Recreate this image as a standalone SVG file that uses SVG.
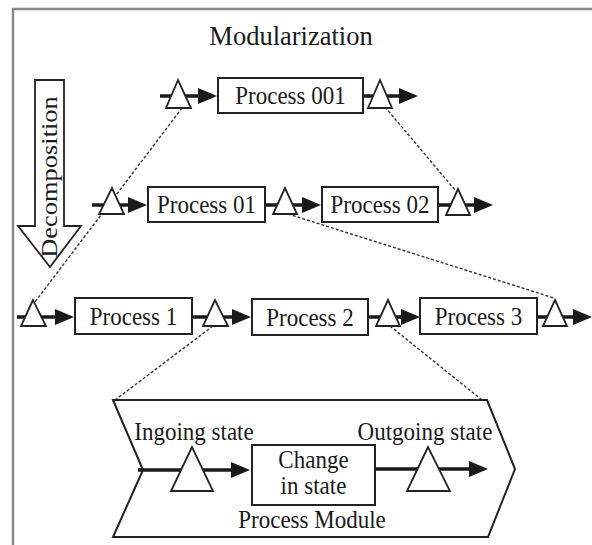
<svg xmlns="http://www.w3.org/2000/svg" width="592" height="545" viewBox="0 0 592 545">
<defs>
<style>
.t{font-family:"Liberation Serif","Times New Roman",serif;font-size:23px;fill:#1a1a1a;text-anchor:middle}
.box{fill:#fff;stroke:#222;stroke-width:2}
.tri{fill:#fff;stroke:#222;stroke-width:1.8;stroke-linejoin:miter}
.flow{fill:none;stroke:#1a1a1a;stroke-width:3.5}
.dot{fill:none;stroke:#333;stroke-width:1.4;stroke-dasharray:3 2}
</style>
<marker id="ah" markerUnits="userSpaceOnUse" markerWidth="22" markerHeight="20" refX="11" refY="8" orient="auto" overflow="visible">
<path d="M0,0 L19,8 L0,16 Z" fill="#1a1a1a"/>
</marker>
</defs>
<rect width="592" height="545" fill="#fff"/>
<path d="M13,545 V9 H592" fill="none" stroke="#888" stroke-width="2.5"/>
<text class="t" style="font-size:26.5px" transform="translate(291,45) scale(1,1.04)">Modularization</text>
<g id="decomposition">
<path d="M35,80 H64 V226 H81 L50,267 L18,226 H35 Z" fill="#fff" stroke="#222" stroke-width="1.8"/>
<text class="t" transform="translate(57,177) scale(1,1.15) rotate(-90)">Decomposition</text>
</g>
<g id="connectors">
<path class="dot" d="M182,108 L35,302"/>
<path class="dot" d="M385,107 L455,190"/>
<path class="dot" d="M288,214 L554,298"/>
<path class="dot" d="M213,326 L115,400"/>
<path class="dot" d="M390,326 L482,400"/>
<path class="flow" d="M160,96 H209" marker-end="url(#ah)"/>
<path class="flow" d="M363,96 H410" marker-end="url(#ah)"/>
<path class="flow" d="M92,205 H139" marker-end="url(#ah)"/>
<path class="flow" d="M265,205 H313" marker-end="url(#ah)"/>
<path class="flow" d="M438,205 H485" marker-end="url(#ah)"/>
<path class="flow" d="M17,317 H66" marker-end="url(#ah)"/>
<path class="flow" d="M192,317 H243" marker-end="url(#ah)"/>
<path class="flow" d="M368,317 H412" marker-end="url(#ah)"/>
<path class="flow" d="M537,317 H584" marker-end="url(#ah)"/>
</g>
<g id="p001-in"><polygon class="tri" points="178,80 166,108 191,108"/></g>
<g id="p001"><rect class="box" x="218" y="78" width="145" height="35"/><text class="t" transform="translate(290.5,104) scale(1,1.05)">Process 001</text></g>
<g id="p001-out"><polygon class="tri" points="380,80 368,108 392,108"/></g>
<g id="p01-in"><polygon class="tri" points="112,188 99,214 124,214"/></g>
<g id="p01"><rect class="box" x="148" y="187" width="117" height="35"/><text class="t" transform="translate(206.5,213) scale(1,1.05)">Process 01</text></g>
<g id="p01-out"><polygon class="tri" points="285,188 273,214 297,214"/></g>
<g id="p02"><rect class="box" x="322" y="187" width="116" height="35"/><text class="t" transform="translate(380,213) scale(1,1.05)">Process 02</text></g>
<g id="p02-out"><polygon class="tri" points="458,189 446,215 470,215"/></g>
<g id="p1-in"><polygon class="tri" points="33,300 21,326 46,326"/></g>
<g id="p1"><rect class="box" x="75" y="298" width="117" height="36"/><text class="t" transform="translate(133.5,325) scale(1,1.05)">Process 1</text></g>
<g id="p1-out"><polygon class="tri" points="215,300 203,326 228,326"/></g>
<g id="p2"><rect class="box" x="252" y="299" width="116" height="36"/><text class="t" transform="translate(310,326) scale(1,1.05)">Process 2</text></g>
<g id="p2-out"><polygon class="tri" points="388,300 376,326 400,326"/></g>
<g id="p3"><rect class="box" x="420" y="298" width="117" height="36"/><text class="t" transform="translate(478.5,325) scale(1,1.05)">Process 3</text></g>
<g id="p3-out"><polygon class="tri" points="555,300 543,326 567,326"/></g>
<g id="process-module">
<polygon points="113,400 487,400 515,469 488,537 113,537 143,470" fill="#fff" stroke="#222" stroke-width="2"/>
<path class="flow" d="M138,470 H242" marker-end="url(#ah)"/>
<path class="flow" d="M375,469 H480" marker-end="url(#ah)"/>
<polygon class="tri" points="192,447 171,491 213,491"/>
<polygon class="tri" points="428,447 407,491 450,491"/>
<rect class="box" x="252" y="445" width="123" height="60"/>
<text class="t" transform="translate(313.5,468) scale(1,1.05)">Change</text>
<text class="t" transform="translate(313.5,494) scale(1,1.05)">in state</text>
<text class="t" transform="translate(194,440) scale(1,1.05)">Ingoing state</text>
<text class="t" transform="translate(425,440) scale(1,1.05)">Outgoing state</text>
<text class="t" transform="translate(312,528) scale(1,1.05)">Process Module</text>
</g>
</svg>
